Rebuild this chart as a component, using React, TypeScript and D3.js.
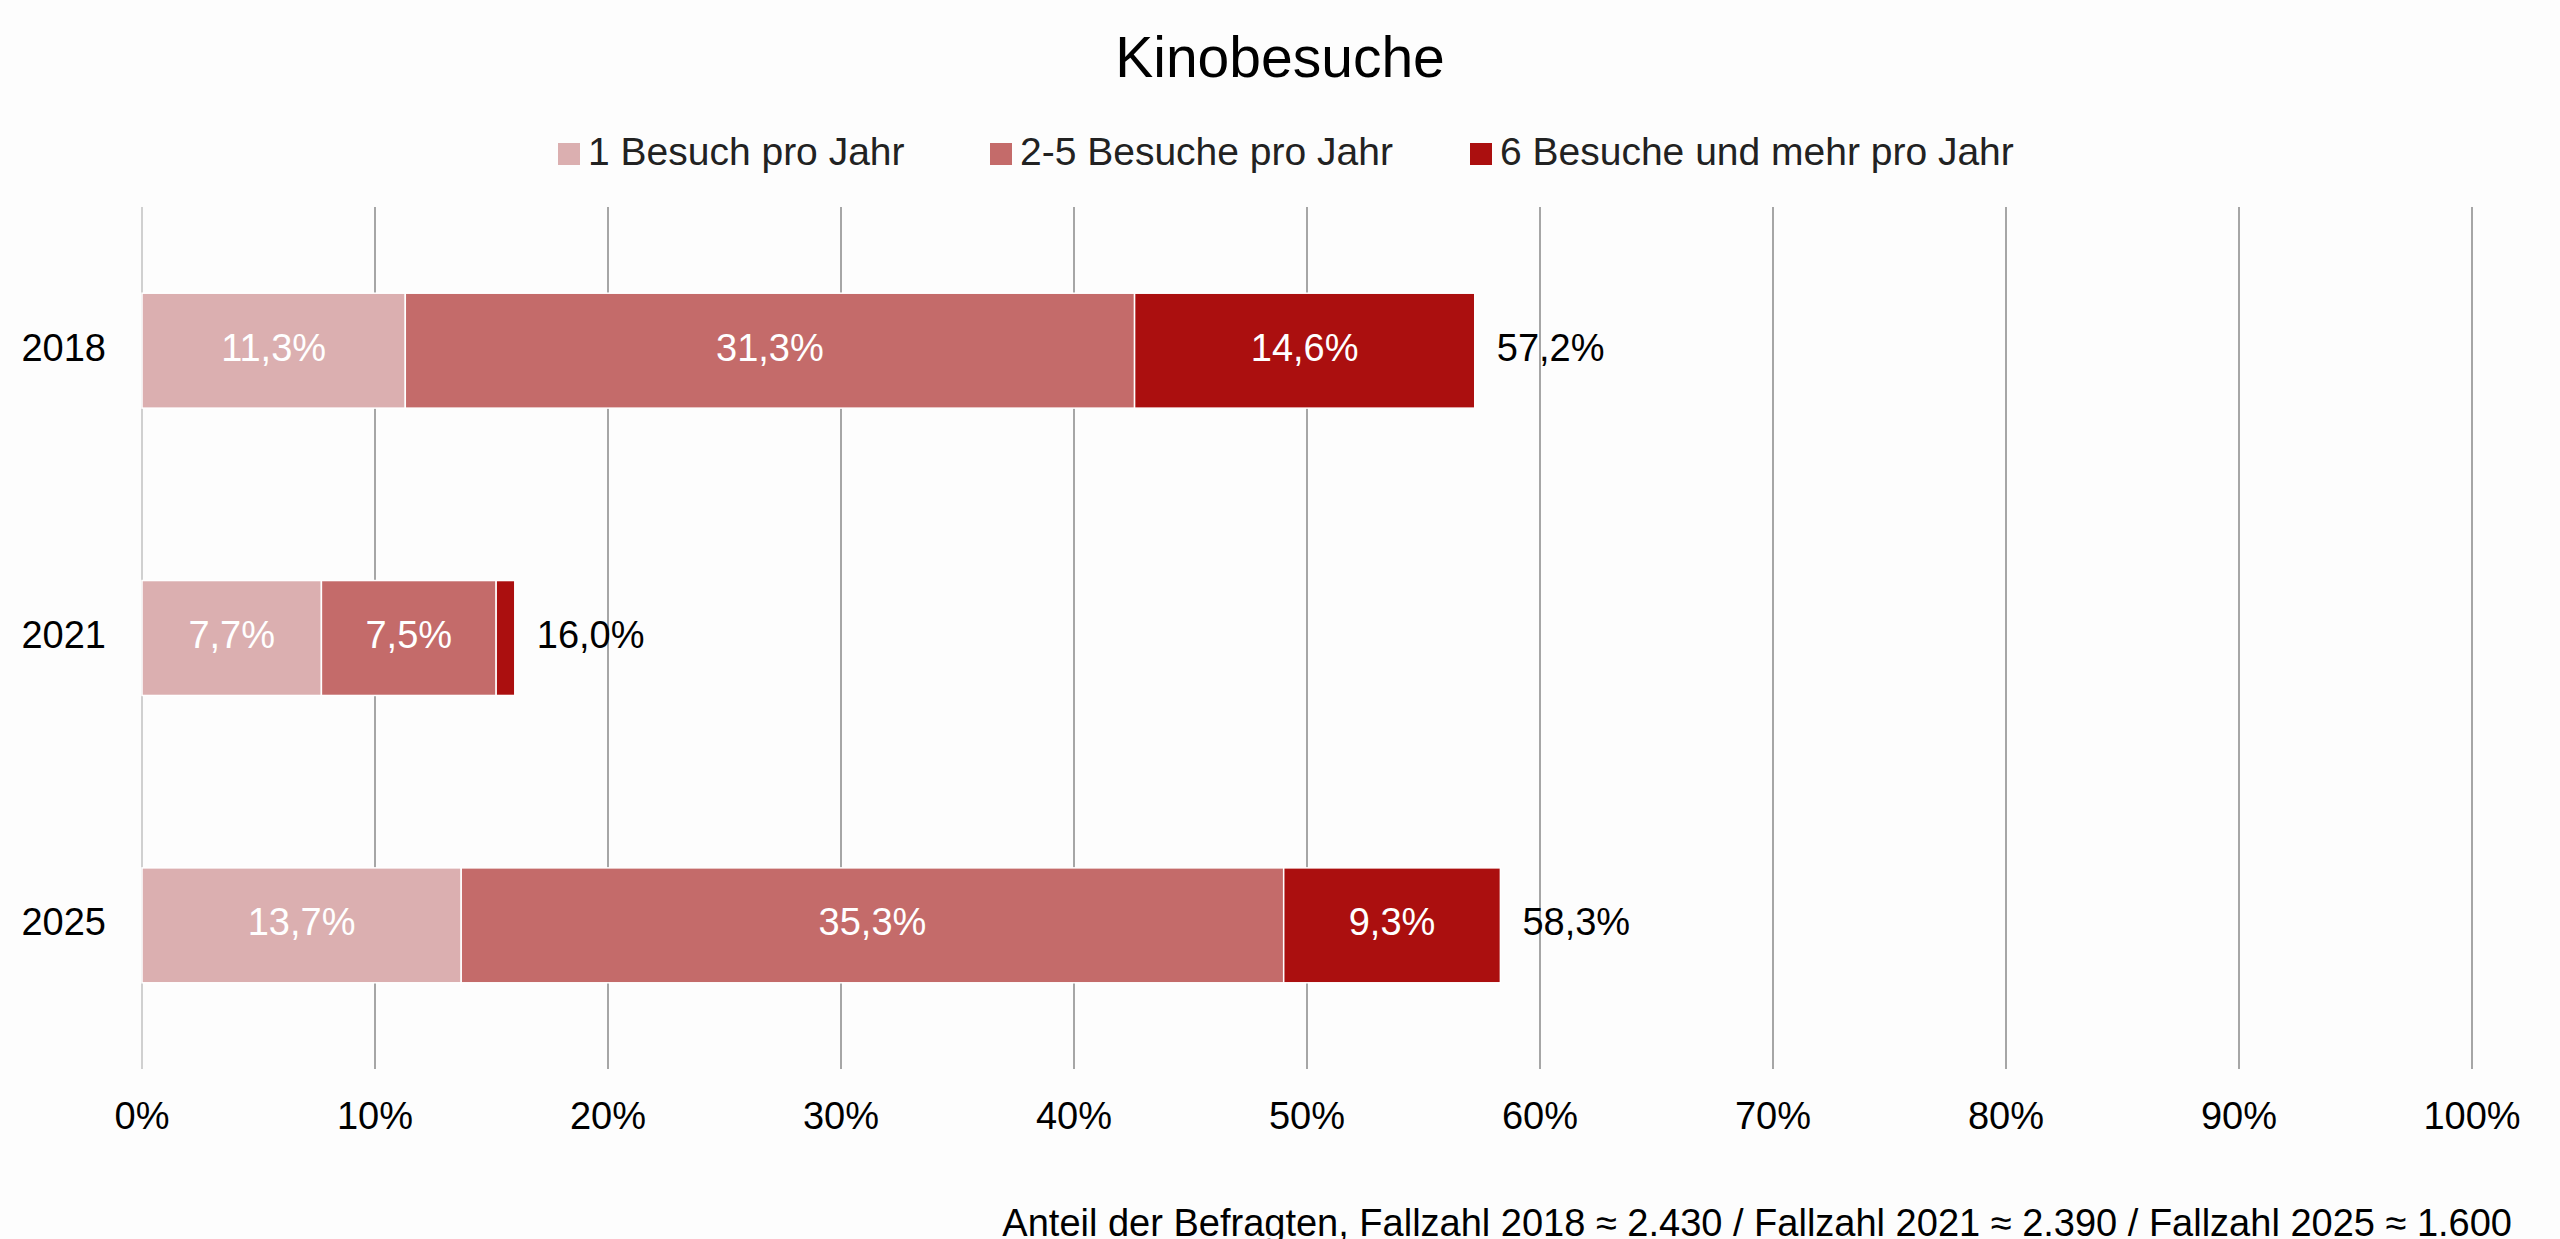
import * as d3 from 'd3';

const years = ['2018', '2021', '2025'];
const series = ['1 Besuch pro Jahr', '2-5 Besuche pro Jahr', '6 Besuche und mehr pro Jahr'];
const colors = ['#dbafb0', '#c46b6a', '#ab0f0f'];
const values = [
  [11.3, 31.3, 14.6],
  [7.7, 7.5, 0.8],
  [13.7, 35.3, 9.3],
];
const totals = [57.2, 16.0, 58.3];
const ticks = [0, 10, 20, 30, 40, 50, 60, 70, 80, 90, 100];

const W = 2560, H = 1239;
const fmt = (v: number) => v.toFixed(1).replace('.', ',') + '%';

export default function App() {
  const x = d3.scaleLinear().domain([0, 100]).range([142, 2472]);
  const y = d3.scaleBand().domain(years).range([207, 1069]).paddingInner(0.6).paddingOuter(0.3);
  const font = 'Arial, "Liberation Sans", sans-serif';
  const legendX = [558, 990, 1470];
  const fs = 38;
  return (
    <svg width={W} height={H} style={{ display: 'block', background: '#fdfdfd', position: 'absolute', left: 0, top: 0 }} fontFamily={font}>
      <text x={W / 2} y={62} textAnchor="middle" dominantBaseline="middle" fontSize={57}>Kinobesuche</text>
      {series.map((s, i) => (
        <g key={s}>
          <rect x={legendX[i]} y={143} width={22} height={22} fill={colors[i]} />
          <text x={legendX[i] + 30} y={155} dominantBaseline="middle" fontSize={39} fill="#222">{s}</text>
        </g>
      ))}
      {ticks.map(t => (
        <g key={t}>
          <line x1={x(t)} x2={x(t)} y1={207} y2={1069} stroke={t === 0 ? '#d0d0d0' : '#a6a6a6'} strokeWidth={2} />
          <text x={x(t)} y={1119} textAnchor="middle" dominantBaseline="middle" fontSize={fs}>{t}%</text>
        </g>
      ))}
      {years.map((yr, r) => {
        let acc = 0;
        const by = y(yr)!, bh = y.bandwidth();
        return (
          <g key={yr}>
            <text x={106} y={by + bh / 2} textAnchor="end" dominantBaseline="middle" fontSize={fs}>{yr}</text>
            {values[r].map((v, i) => {
              const x0 = x(acc); acc += v;
              const w = x(acc) - x0;
              return (
                <g key={i}>
                  <rect x={x0} y={by} width={w} height={bh} fill={colors[i]} stroke="#fff" strokeWidth={1.5} />
                  {v >= 5 && (
                    <text x={x0 + w / 2} y={by + bh / 2} textAnchor="middle" dominantBaseline="middle" fontSize={fs} fill="#fff">{fmt(v)}</text>
                  )}
                </g>
              );
            })}
            <text x={x(totals[r]) + 22} y={by + bh / 2} dominantBaseline="middle" fontSize={fs}>{fmt(totals[r])}</text>
          </g>
        );
      })}
      <text x={2512} y={1226} textAnchor="end" dominantBaseline="middle" fontSize={38}>
        Anteil der Befragten, Fallzahl 2018 ≈ 2.430 / Fallzahl 2021 ≈ 2.390 / Fallzahl 2025 ≈ 1.600
      </text>
    </svg>
  );
}
